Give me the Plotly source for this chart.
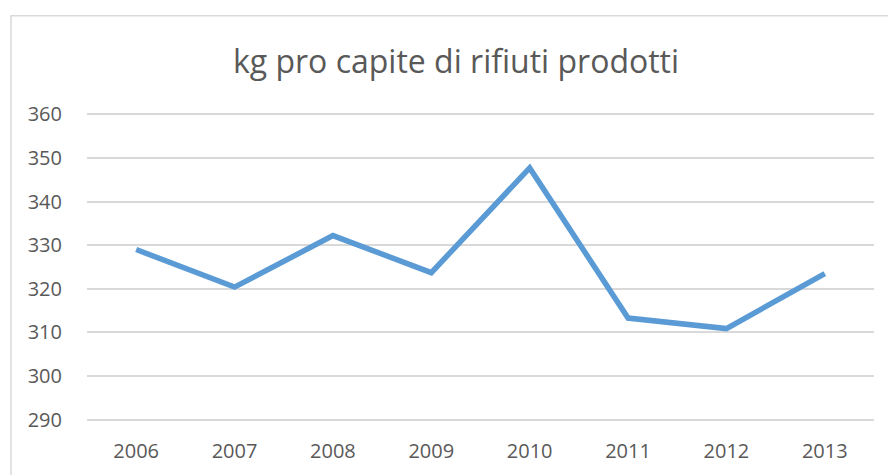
import plotly.graph_objects as go

years = ["2006", "2007", "2008", "2009", "2010", "2011", "2012", "2013"]
kg_per_capita = [329.0, 320.4, 332.2, 323.7, 347.7, 313.3, 310.9, 323.5]
y_ticks = [290, 300, 310, 320, 330, 340, 350, 360]

W, H = 888, 475
L, R = 87, 14
Y_TOP_PX, Y_BOT_PX = 114.5, 420.0          # pixel positions of 360 and 290 gridlines
PAD = 0.5                                   # range padding (data units)
px_per_unit = (Y_BOT_PX - Y_TOP_PX) / (y_ticks[-1] - y_ticks[0])
T = Y_TOP_PX - PAD * px_per_unit
B = H - (Y_BOT_PX + PAD * px_per_unit)

fig = go.Figure()
fig.add_trace(go.Scatter(
    x=years, y=kg_per_capita, mode="lines",
    line=dict(color="#5b9bd5", width=5.5, shape="linear"),
    hoverinfo="x+y", showlegend=False,
))

font_family = "Open Sans, Noto Sans, sans-serif"
plot_h = H - T - B
plot_w = W - L - R
fig.update_layout(
    width=W, height=H,
    margin=dict(l=L, r=R, t=T, b=B, pad=0),
    paper_bgcolor="white", plot_bgcolor="white",
    title=dict(text="kg pro capite di rifiuti prodotti", x=456 / W, xanchor="center",
               y=1 - 62 / H, yanchor="middle",
               font=dict(family=font_family, size=32, color="#595959")),
    xaxis=dict(type="category", range=[-0.5, 7.5], showgrid=False, zeroline=False,
               showline=False, ticks="", ticklabelstandoff=15,
               tickfont=dict(family=font_family, size=20, color="#595959")),
    yaxis=dict(range=[y_ticks[0] - PAD, y_ticks[-1] + PAD], tickvals=y_ticks,
               showgrid=True, gridcolor="#d9d9d9",
               gridwidth=1.5, zeroline=False, showline=False, ticks="",
               ticklabelstandoff=24,
               tickfont=dict(family=font_family, size=20, color="#595959")),
    shapes=[dict(type="rect", xref="paper", yref="paper",
                 x0=(11 - L) / plot_w, x1=(W + 5 - L) / plot_w,
                 y0=(H - B - (H + 5)) / plot_h, y1=(H - B - 16) / plot_h,
                 line=dict(color="#d9d9d9", width=1.5), fillcolor="rgba(0,0,0,0)", layer="below")],
)

fig.write_html("out.html", config={"displayModeBar": False},
               post_script="document.body.style.margin='0';")
